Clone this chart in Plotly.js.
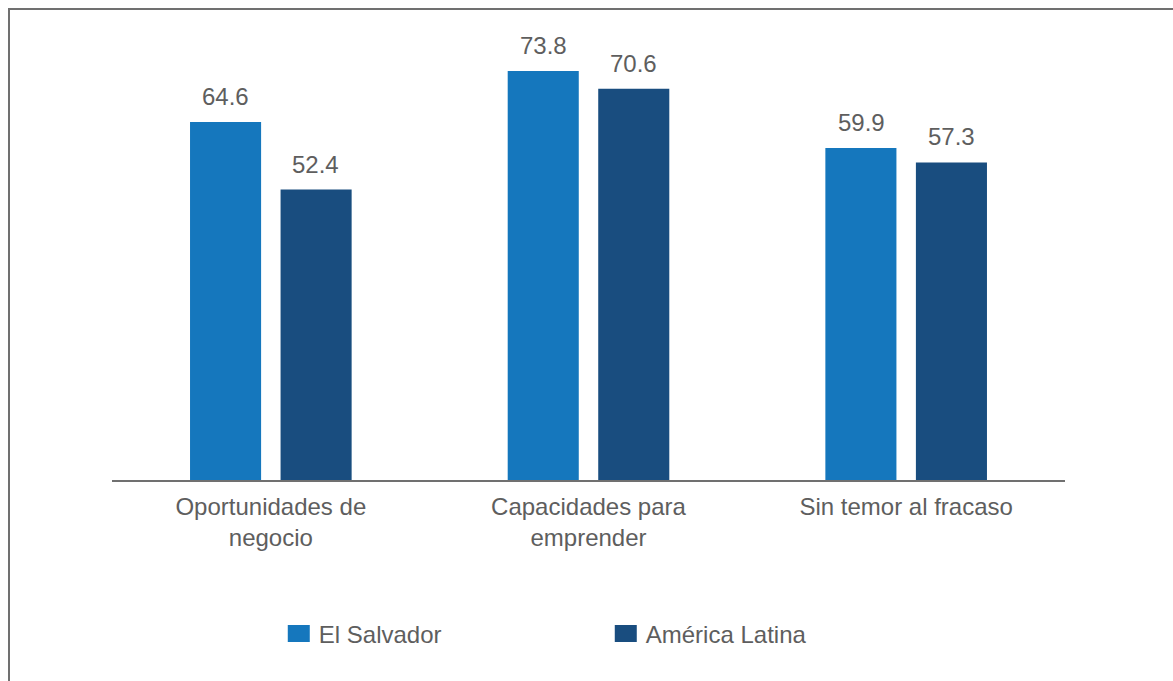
<!DOCTYPE html>
<html>
<head>
<meta charset="utf-8">
<script src="https://cdn.plot.ly/plotly-3.0.1.min.js"></script>
<style>
  html, body { margin: 0; padding: 0; width: 1173px; height: 681px; overflow: hidden; background: #ffffff; }
  #frame { position: absolute; left: 8px; top: 8px; width: 2000px; height: 2000px; border: 2px solid #707070; box-sizing: border-box; }
  #chart { position: absolute; left: 0; top: 0; width: 1173px; height: 681px; }
</style>
</head>
<body>
<div id="frame"></div>
<div id="chart"></div>
<script>
const categories = ["Oportunidades de<br>negocio", "Capacidades para<br>emprender", "Sin temor al fracaso"];
const seriesNames = ["El Salvador", "América Latina"];
const elSalvador = [64.6, 73.8, 59.9];
const americaLatina = [52.4, 70.6, 57.3];
const seriesColors = ["#1577bd", "#194d7f"];

const textColor = "#5e5e5e";
const fontFamily = "Liberation Sans, Arial, sans-serif";

const seriesValues = [elSalvador, americaLatina];
const traces = seriesValues.map((vals, i) => ({
  type: "bar",
  name: seriesNames[i],
  x: categories,
  y: vals,
  marker: { color: seriesColors[i] },
  hoverinfo: "skip"
}));

const annotations = [];
const shifts = [-45, 45];
seriesValues.forEach((vals, i) => {
  vals.forEach((v, j) => {
    annotations.push({
      x: categories[j], y: v, xref: "x", yref: "y",
      text: v.toFixed(1), showarrow: false,
      xanchor: "center", yanchor: "bottom",
      xshift: shifts[i], yshift: 10,
      font: { family: fontFamily, size: 24, color: textColor }
    });
  });
});

const layout = {
  width: 1173, height: 681,
  paper_bgcolor: "rgba(0,0,0,0)",
  plot_bgcolor: "rgba(0,0,0,0)",
  margin: { l: 112, r: 108, t: 40, b: 201 },
  barmode: "group",
  bargap: 0.43,
  bargroupgap: 0.215,
  font: { family: fontFamily, size: 24, color: textColor },
  xaxis: {
    showline: true, linecolor: "#707070", linewidth: 2,
    ticks: "", showgrid: false, zeroline: false,
    ticklabelstandoff: 4,
    tickfont: { family: fontFamily, size: 24, color: textColor },
    fixedrange: true
  },
  yaxis: {
    range: [0, 79.4], visible: false, showgrid: false, zeroline: false, fixedrange: true
  },
  showlegend: true,
  legend: {
    orientation: "h",
    x: 0.175, xanchor: "left",
    y: -0.35, yanchor: "middle",
    entrywidth: 282, entrywidthmode: "pixels",
    font: { family: fontFamily, size: 24, color: textColor },
    bgcolor: "rgba(0,0,0,0)"
  },
  annotations: annotations
};

Plotly.newPlot("chart", traces, layout, { displayModeBar: false, staticPlot: true }).then(() => {
  document.querySelectorAll("#chart .legendpoints path").forEach(p => {
    p.setAttribute("d", "M11,8.5H-11V-8.5H11Z");
  });
});
</script>
</body>
</html>
